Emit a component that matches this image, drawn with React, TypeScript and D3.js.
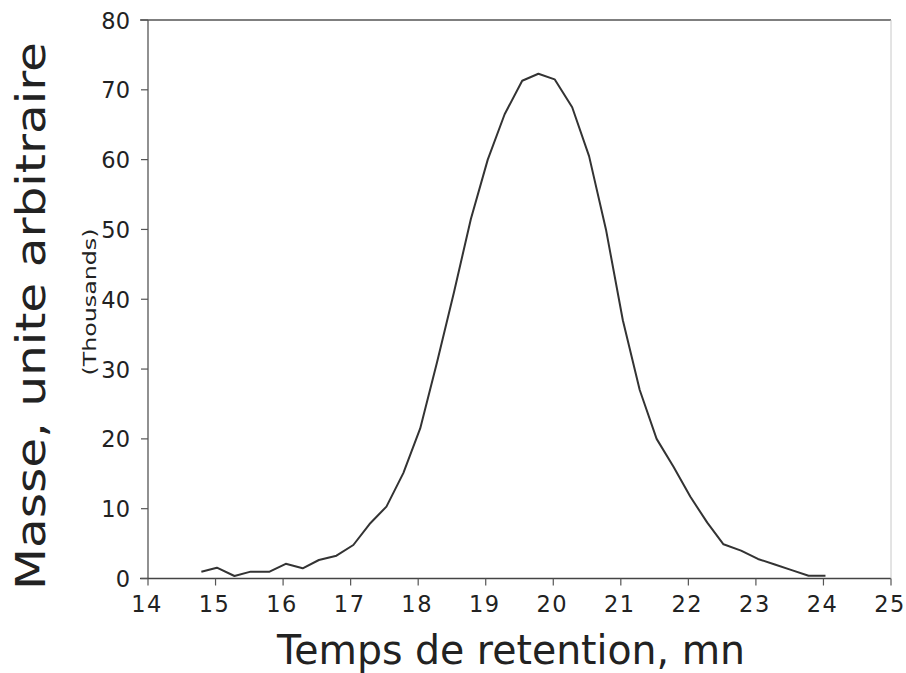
import React from "react";
import * as d3 from "d3";

// Retention time (min) and mass (thousands, arbitrary units)
const retentionTimes = [
  14.79, 15.02, 15.28, 15.52, 15.8, 16.04, 16.29, 16.53, 16.79, 17.04, 17.28,
  17.53, 17.78, 18.03, 18.28, 18.53, 18.78, 19.03, 19.28, 19.54, 19.78, 20.02,
  20.28, 20.53, 20.78, 21.03, 21.28, 21.53, 21.78, 22.03, 22.28, 22.52, 22.78,
  23.03, 23.28, 23.53, 23.78, 24.03,
];
const massValues = [
  0.98, 1.55, 0.36, 0.98, 0.98, 2.1, 1.46, 2.65, 3.27, 4.8, 7.8, 10.3, 15.1,
  21.5, 31.0, 41.0, 51.5, 60.0, 66.5, 71.3, 72.3, 71.5, 67.5, 60.5, 50.0, 37.0,
  27.0, 20.0, 16.0, 11.7, 8.0, 4.9, 4.0, 2.8, 2.0, 1.2, 0.4, 0.4,
];
const xTicks = [14, 15, 16, 17, 18, 19, 20, 21, 22, 23, 24, 25];
const yTicks = [0, 10, 20, 30, 40, 50, 60, 70, 80];

const xTitle = "Temps de retention,  mn";
const yTitle = "Masse,  unite arbitraire";
const yUnit = "(Thousands)";

const W = 906;
const H = 673;
const left = 148;
const right = 891;
const top = 20;
const bottom = 578.5;

export default function App() {
  const x = d3.scaleLinear().domain([14, 25]).range([left, right]);
  const y = d3.scaleLinear().domain([0, 80]).range([bottom, top]);
  const pts = retentionTimes.map((t, i) => [t, massValues[i]] as [number, number]);
  const line = d3
    .line<[number, number]>()
    .x((d) => x(d[0]))
    .y((d) => y(d[1]));

  const font = "'DejaVu Sans', sans-serif";
  const ink = "#222";

  return (
    <svg
      width={W}
      height={H}
      style={{ position: "absolute", left: 0, top: 0, background: "#fff" }}
    >
      {/* frame */}
      <line x1={left - 8} x2={right} y1={top} y2={top} stroke="#555" strokeWidth={1.3} />
      <line x1={left} x2={left} y1={top} y2={bottom} stroke="#555" strokeWidth={1.3} />
      <line x1={left - 8} x2={right} y1={bottom} y2={bottom} stroke="#444" strokeWidth={1.5} />
      <line x1={right} x2={right} y1={top} y2={bottom} stroke="#c8c8c8" strokeWidth={1} />

      {/* y ticks */}
      {yTicks.map((v) => (
        <g key={"y" + v}>
          <line x1={left - 7} x2={left} y1={y(v)} y2={y(v)} stroke="#555" strokeWidth={1.2} />
          <text
            x={130}
            y={y(v) + 8.5}
            textAnchor="end"
            fontFamily={font}
            fontSize={22.5}
            fill={ink}
          >
            {v}
          </text>
        </g>
      ))}

      {/* x ticks */}
      {xTicks.map((v) => (
        <g key={"x" + v}>
          <line x1={x(v)} x2={x(v)} y1={bottom} y2={bottom + 7} stroke="#555" strokeWidth={1.2} />
          <text
            x={x(v) - 1}
            y={612}
            textAnchor="middle"
            fontFamily={font}
            fontSize={22.5}
            letterSpacing={1.5}
            fill={ink}
          >
            {v}
          </text>
        </g>
      ))}

      {/* data */}
      <path d={line(pts) ?? ""} fill="none" stroke="#333" strokeWidth={2} strokeLinejoin="round" />

      {/* titles */}
      <text
        x={511}
        y={664}
        textAnchor="middle"
        fontFamily={font}
        fontSize={40}
        fill={ink}
        textLength={468}
        lengthAdjust="spacingAndGlyphs"
      >
        {xTitle}
      </text>
      <text
        transform={`translate(45, 316) rotate(-90)`}
        textAnchor="middle"
        fontFamily={font}
        fontSize={40}
        fill={ink}
        textLength={548}
        lengthAdjust="spacingAndGlyphs"
      >
        {yTitle}
      </text>
      <text
        transform={`translate(96, 302) rotate(-90)`}
        textAnchor="middle"
        fontFamily={font}
        fontSize={17}
        fill={ink}
        textLength={147}
        lengthAdjust="spacingAndGlyphs"
      >
        {yUnit}
      </text>
    </svg>
  );
}
